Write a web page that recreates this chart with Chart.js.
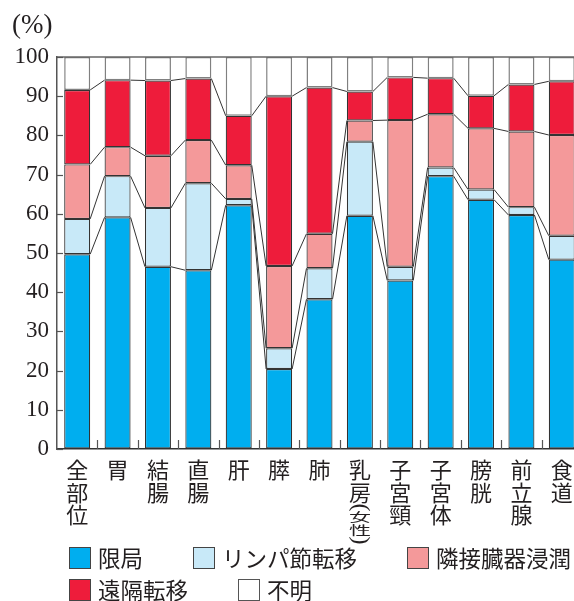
<!DOCTYPE html>
<html><head><meta charset="utf-8">
<script src="https://cdn.jsdelivr.net/npm/chart.js@4.4.1/dist/chart.umd.min.js"></script>
<style>
html,body{margin:0;padding:0;background:#fff;}
#wrap{position:relative;width:574px;height:601px;overflow:hidden;}
#c{position:absolute;left:0;top:0;}
#legend{position:absolute;left:69px;top:546px;width:570px;display:flex;flex-wrap:wrap;row-gap:9px;font-family:'Noto Sans CJK JP';font-size:22.5px;color:#231f20;}
.item{display:flex;align-items:center;height:23px;line-height:23px;margin-right:50px;white-space:nowrap;}
.box{width:20px;height:20px;border:1.5px solid #444;margin-right:7px;flex:none;}
</style></head>
<body><div id="wrap"><canvas id="c" width="590" height="601"></canvas><div id="legend"></div></div>
<script>
const categories = ['全部位','胃','結腸','直腸','肝','膵','肺','乳房(女性)','子宮頸','子宮体','膀胱','前立腺','食道'];
const seriesNames = ['限局','リンパ節転移','隣接臓器浸潤','遠隔転移','不明'];
const localized = [49.7, 59.1, 46.5, 45.6, 62.2, 20.4, 38.2, 59.5, 43.0, 69.6, 63.6, 59.7, 48.3];
const lymphNode = [9.0, 10.5, 15.0, 22.2, 1.6, 5.3, 7.9, 18.9, 3.5, 2.2, 2.6, 2.0, 6.1];
const adjacent  = [13.9, 7.4, 13.3, 11.0, 8.6, 21.0, 8.8, 5.4, 37.4, 13.6, 15.6, 19.3, 25.7];
const distant   = [19.0, 17.1, 19.2, 15.7, 12.6, 43.3, 37.3, 7.4, 10.9, 9.2, 8.3, 12.0, 13.7];
const unknown   = [8.4, 5.9, 6.0, 5.5, 15.0, 10.0, 7.8, 8.8, 5.2, 5.4, 9.9, 7.0, 6.2];
const yTickValues = [0,10,20,30,40,50,60,70,80,90,100];

const fills = ['#00AEEF','#C8E9F8','#F4999A','#EE1C3B','#FFFFFF'];
const edges = ['#333','#333','#333','#333','#808080'];
const seriesData = [localized, lymphNode, adjacent, distant, unknown];

const decor = {
  id: 'decor',
  afterDatasetsDraw(chart) {
    const {ctx, chartArea: a, scales: {x, y}} = chart;
    ctx.save();
    ctx.strokeStyle = '#333'; ctx.lineWidth = 1;
    for (let d = 0; d < 4; d++) {
      const els = chart.getDatasetMeta(d).data;
      for (let i = 0; i < els.length - 1; i++) {
        const p = els[i], q = els[i+1];
        ctx.beginPath();
        ctx.moveTo(p.x + p.width/2, p.y);
        ctx.lineTo(q.x - q.width/2, q.y);
        ctx.stroke();
      }
    }
    const yTop = y.getPixelForValue(100);
    ctx.strokeStyle = '#666'; ctx.lineWidth = 1.5;
    ctx.beginPath(); ctx.moveTo(a.left, yTop); ctx.lineTo(a.right, yTop); ctx.stroke();
    ctx.strokeStyle = '#555'; ctx.lineWidth = 1.2;
    y.ticks.forEach(t => {
      const py = Math.round(y.getPixelForValue(t.value)) + 0.5;
      ctx.beginPath(); ctx.moveTo(a.left, py); ctx.lineTo(a.left + 6, py); ctx.stroke();
    });
    for (let i = 1; i < categories.length; i++) {
      const bx = Math.round((x.getPixelForValue(i-1) + x.getPixelForValue(i)) / 2) + 0.5;
      ctx.beginPath(); ctx.moveTo(bx, a.bottom); ctx.lineTo(bx, a.bottom - 9); ctx.stroke();
    }
    ctx.restore();
  },
  afterDraw(chart) {
    const {ctx, chartArea: a, scales: {x}} = chart;
    ctx.save();
    ctx.fillStyle = '#231f20';
    ctx.font = "22px 'Noto Sans CJK JP'";
    ctx.textAlign = 'center'; ctx.textBaseline = 'middle';
    chart.data.labels.forEach((lab, i) => {
      const cx = x.getPixelForValue(i);
      let cur = a.bottom + 9.5;
      let inParen = false;
      for (const ch of lab) {
        if (ch === '(' || ch === ')') {
          const h = 8;
          const cy = cur + h/2;
          ctx.save(); ctx.translate(cx, cy); ctx.rotate(Math.PI/2);
          ctx.font = "24px 'Liberation Serif'";
          ctx.fillText(ch, 0, 0); ctx.restore();
          cur += h; inParen = (ch === '(');
        } else if (inParen) {
          const h = 12.5;
          ctx.save(); ctx.translate(cx, cur + h/2); ctx.scale(1, 0.56);
          ctx.fillText(ch, 0, 0); ctx.restore();
          cur += h;
        } else {
          const h = 22.5;
          ctx.fillText(ch, cx, cur + h/2);
          cur += h;
        }
      }
    });
    ctx.restore();
  }
};

const chart = new Chart(document.getElementById('c'), {
  type: 'bar',
  data: {
    labels: categories,
    datasets: seriesNames.map((name, k) => ({
      label: name,
      data: seriesData[k],
      backgroundColor: fills[k],
      borderColor: edges[k],
      borderWidth: k === 4 ? 1.5 : 1.2,
      borderSkipped: false,
      categoryPercentage: 1,
      barPercentage: 0.644
    }))
  },
  options: {
    responsive: false,
    animation: false,
    devicePixelRatio: 1,
    layout: { padding: { left: 12, right: 8, top: 0, bottom: 0 } },
    plugins: {
      legend: { display: false },
      tooltip: { enabled: false },
      title: {
        display: true, text: '(%)', align: 'start', color: '#231f20',
        font: { family: "'Liberation Serif'", size: 27, weight: 'normal', lineHeight: 1.2 },
        padding: { top: 10, bottom: 14.6 }
      }
    },
    scales: {
      x: {
        stacked: true,
        ticks: { display: false },
        grid: { display: true, drawOnChartArea: false, drawTicks: false },
        border: { display: true, color: '#333', width: 1.5 },
        afterFit: s => { s.height = 152; }
      },
      y: {
        stacked: true, min: 0, max: 100,
        afterBuildTicks: s => { s.ticks = yTickValues.map(v => ({ value: v })); },
        ticks: { color: '#231f20', padding: 8, font: { family: "'Liberation Serif'", size: 23 } },
        grid: { display: true, drawOnChartArea: false, drawTicks: false },
        border: { display: true, color: '#555', width: 1.5 },
        afterFit: s => { s.width = 45; }
      }
    }
  },
  plugins: [decor]
});

const legendEl = document.getElementById('legend');
chart.data.datasets.forEach(ds => {
  const item = document.createElement('div'); item.className = 'item';
  const box = document.createElement('span'); box.className = 'box';
  box.style.background = ds.backgroundColor;
  box.style.borderColor = ds.backgroundColor === '#FFFFFF' ? '#555' : '#444';
  const txt = document.createElement('span'); txt.textContent = ds.label;
  item.appendChild(box); item.appendChild(txt); legendEl.appendChild(item);
});
</script></body></html>
